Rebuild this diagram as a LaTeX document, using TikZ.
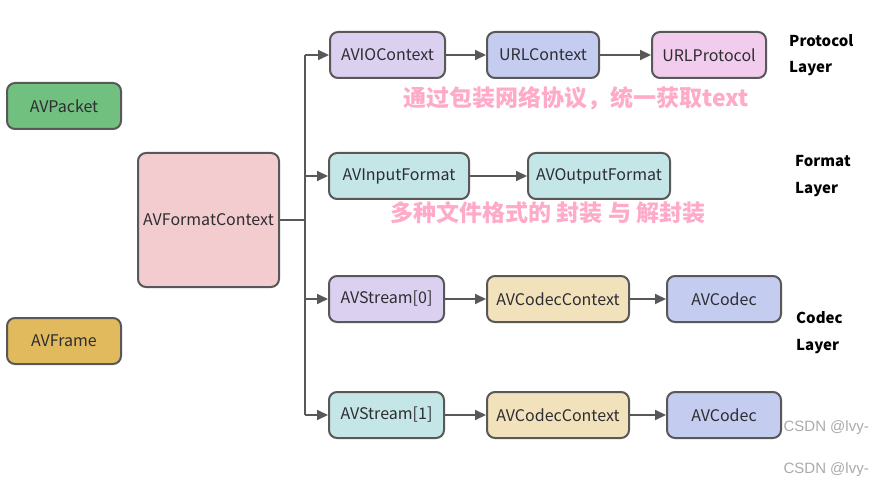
\documentclass[tikz,border=0pt]{standalone}
\usepackage{fontspec}
\setmainfont{Noto Sans CJK SC}
\newfontfamily\wmfont{Liberation Sans}
\usetikzlibrary{arrows.meta}
\definecolor{edgegray}{RGB}{88,88,88}
\definecolor{txtgray}{RGB}{45,45,50}
\definecolor{cgreen}{RGB}{114,192,128}
\definecolor{cgold}{RGB}{224,186,92}
\definecolor{cpinkfc}{RGB}{242,204,206}
\definecolor{cpurple}{RGB}{220,208,240}
\definecolor{cblue}{RGB}{196,204,240}
\definecolor{cpinkp}{RGB}{242,204,236}
\definecolor{cteal}{RGB}{196,230,230}
\definecolor{ctan}{RGB}{242,226,188}
\definecolor{notepink}{RGB}{255,170,200}
\definecolor{wmgray}{RGB}{170,170,170}
\tikzset{
  box/.style={draw=edgegray, line width=2pt, rounded corners=8pt, minimum height=46pt,
    inner sep=2pt, text=txtgray, font=\fontsize{16}{19}\selectfont},
  conn/.style={draw=edgegray, line width=2pt, -{Triangle[length=11pt,width=10pt]}},
  trunk/.style={draw=edgegray, line width=2pt},
  layer/.style={anchor=west, font=\fontsize{15}{18}\selectfont\bfseries, text=black, inner sep=0pt},
  note/.style={font=\fontsize{23}{27}\selectfont\bfseries, text=notepink, inner sep=0pt},
  wm/.style={font=\wmfont\fontsize{15}{18}\selectfont, text=wmgray, inner sep=0pt, anchor=east}
}
\begin{document}
\begin{tikzpicture}[x=1pt,y=-1pt]
\useasboundingbox (0,0) rectangle (872,486);
% left
\node[box, fill=cgreen, minimum width=114pt] (pkt) at (64,106) {AVPacket};
\node[box, fill=cgold, minimum width=114pt] (frm) at (64,341) {AVFrame};
\node[box, fill=cpinkfc, minimum width=141pt, minimum height=134pt] (fmt) at (208.5,220) {AVFormatContext};
% row 1
\node[box, fill=cpurple, minimum width=115pt] (avio) at (387.5,55) {AVIOContext};
\node[box, fill=cblue, minimum width=112pt] (urlc) at (543,55) {URLContext};
\node[box, fill=cpinkp, minimum width=114pt] (urlp) at (709,55) {URLProtocol};
% row 2
\node[box, fill=cteal, minimum width=140pt] (inf) at (399,176) {AVInputFormat};
\node[box, fill=cteal, minimum width=142pt] (outf) at (599,176) {AVOutputFormat};
% row 3
\node[box, fill=cpurple, minimum width=115pt] (s0) at (386.5,299) {AVStream[0]};
\node[box, fill=ctan, minimum width=142pt] (cc0) at (558,299) {AVCodecContext};
\node[box, fill=cblue, minimum width=114pt] (c0) at (724,299) {AVCodec};
% row 4
\node[box, fill=cteal, minimum width=115pt] (s1) at (386.5,415) {AVStream[1]};
\node[box, fill=ctan, minimum width=142pt] (cc1) at (558,415) {AVCodecContext};
\node[box, fill=cblue, minimum width=114pt] (c1) at (724,415) {AVCodec};
% trunk
\coordinate (jn) at (305,220);
\coordinate (t1) at (305,55);
\coordinate (t4) at (305,415);
\draw[trunk] (fmt.east) -- (jn);
\draw[trunk] (t1) -- (t4);
\draw[conn] (t1) -- (avio.west);
\draw[conn] (jn |- inf) -- (inf.west);
\draw[conn] (jn |- s0) -- (s0.west);
\draw[conn] (t4) -- (s1.west);
% chains
\draw[conn] (avio) -- (urlc);
\draw[conn] (urlc) -- (urlp);
\draw[conn] (inf) -- (outf);
\draw[conn] (s0) -- (cc0);
\draw[conn] (cc0) -- (c0);
\draw[conn] (s1) -- (cc1);
\draw[conn] (cc1) -- (c1);
% layer labels
\node[layer] (pl1) at (789,41) {Protocol};
\node[layer] (pl2) at (789,69) {Layer};
\node[layer] (fl1) at (795,161) {Format};
\node[layer] (fl2) at (795,190) {Layer};
\node[layer] (cl1) at (796,318) {Codec};
\node[layer] (cl2) at (796,347) {Layer};
% notes
\node[note] (n1) at (576,98) {通过包装网络协议，统一获取text};
\node[note] (n2) at (548,213) {多种文件格式的 封装 与 解封装};
% watermarks
\node[wm] (w1) at (869,428) {CSDN @lvy-};
\node[wm] (w2) at (869,470) {CSDN @lvy-};
\end{tikzpicture}
\end{document}
